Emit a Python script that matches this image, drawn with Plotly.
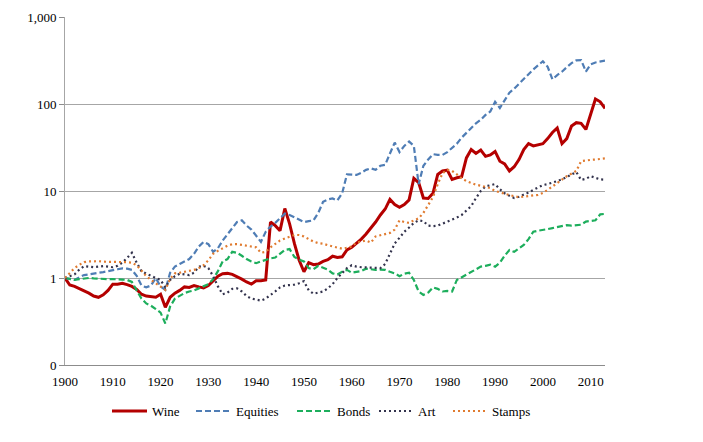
import plotly.graph_objects as go

years = list(range(1900, 2014))

wine = [1.0, 0.83, 0.80, 0.76, 0.71, 0.67, 0.62, 0.60, 0.64, 0.72,
        0.85, 0.85, 0.87, 0.84, 0.80, 0.74, 0.65, 0.62, 0.61, 0.60,
        0.65, 0.46, 0.60, 0.67, 0.72, 0.79, 0.78, 0.82, 0.79, 0.77,
        0.82, 0.92, 1.05, 1.12, 1.13, 1.10, 1.04, 0.97, 0.90, 0.85,
        0.93, 0.93, 0.95, 4.4, 4.0, 3.5, 6.3, 4.2, 2.5, 1.6,
        1.18, 1.5, 1.42, 1.45, 1.55, 1.62, 1.78, 1.72, 1.75, 2.1,
        2.25, 2.5, 2.8, 3.2, 3.7, 4.4, 5.3, 6.2, 8.0, 7.0,
        6.5, 7.0, 7.9, 14.0, 12.5, 8.3, 8.2, 9.4, 15.5, 17.0,
        17.4, 13.6, 14.2, 14.6, 24.0, 30.0, 27.0, 29.5, 25.0, 26.0,
        28.5, 22.0, 20.5, 17.0, 19.0, 23.0, 30.0, 35.0, 33.0, 34.0,
        35.0, 40.0, 47.0, 53.0, 35.0, 40.0, 56.0, 61.0, 60.0, 51.0,
        77.0, 114.0, 106.0, 89.0]

equities = [1.0, 0.97, 0.95, 1.02, 1.08, 1.10, 1.13, 1.15, 1.17, 1.20,
            1.24, 1.26, 1.29, 1.28, 1.24, 1.06, 0.82, 0.78, 0.82, 1.0,
            0.80, 0.73, 1.15, 1.35, 1.45, 1.55, 1.65, 1.9, 2.3, 2.6,
            2.45, 2.0, 2.2, 2.7, 3.2, 3.7, 4.4, 4.6, 4.0, 3.6,
            3.1, 2.6, 3.4, 3.9, 4.3, 4.9, 5.5, 5.3, 5.0, 4.7,
            4.4, 4.5, 4.6, 5.6, 7.5, 8.0, 8.2, 7.8, 9.4, 15.5,
            15.5, 15.3, 16.2, 17.5, 18.2, 17.5, 19.5, 20.0, 27.0, 36.0,
            28.0, 33.0, 37.0, 33.0, 12.0, 19.5, 23.0, 26.5, 26.0, 26.0,
            28.0, 31.0, 35.0, 41.0, 47.0, 53.0, 60.0, 66.0, 75.0, 82.0,
            106.0, 90.0, 112.0, 135.0, 150.0, 172.0, 195.0, 220.0, 250.0, 280.0,
            310.0, 268.0, 192.0, 215.0, 235.0, 265.0, 295.0, 318.0, 320.0, 236.0,
            285.0, 300.0, 305.0, 315.0]

bonds = [1.0, 0.97, 0.95, 0.97, 0.98, 1.0, 0.99, 0.98, 0.97, 0.97,
         0.97, 0.97, 0.96, 0.95, 0.90, 0.72, 0.58, 0.51, 0.48, 0.44,
         0.40, 0.30, 0.47, 0.58, 0.63, 0.67, 0.70, 0.72, 0.76, 0.80,
         0.85, 0.97, 1.2, 1.55, 1.65, 2.0, 1.95, 1.8, 1.65, 1.55,
         1.48, 1.55, 1.62, 1.68, 1.72, 1.9, 2.1, 2.15, 1.75, 1.62,
         1.55, 1.3, 1.26, 1.38, 1.3, 1.25, 1.13, 1.1, 1.18, 1.24,
         1.15, 1.18, 1.2, 1.28, 1.26, 1.24, 1.25, 1.24, 1.18, 1.13,
         1.05, 1.12, 1.15, 0.95, 0.70, 0.64, 0.68, 0.78, 0.75, 0.70,
         0.71, 0.70, 0.95, 1.02, 1.08, 1.15, 1.25, 1.35, 1.38, 1.42,
         1.35, 1.5, 1.8, 2.1, 2.0, 2.2, 2.4, 2.8, 3.4, 3.5,
         3.55, 3.65, 3.75, 3.85, 3.9, 4.05, 4.0, 4.05, 4.1, 4.45,
         4.5, 4.6, 5.4, 5.45]

art = [1.0, 1.05, 1.1, 1.25, 1.37, 1.35, 1.33, 1.35, 1.37, 1.35,
       1.33, 1.38, 1.5, 1.7, 1.95, 1.5, 1.2, 1.12, 1.05, 1.0,
       0.95, 0.78, 0.95, 1.05, 1.12, 1.1, 1.08, 1.15, 1.35, 1.38,
       1.3, 1.05, 0.8, 0.65, 0.68, 0.75, 0.76, 0.7, 0.62, 0.58,
       0.56, 0.55, 0.58, 0.63, 0.7, 0.78, 0.82, 0.83, 0.84, 0.87,
       0.92, 0.72, 0.66, 0.68, 0.7, 0.76, 0.85, 1.0, 1.15, 1.3,
       1.4, 1.35, 1.33, 1.32, 1.33, 1.32, 1.3, 1.45, 1.9, 2.5,
       2.9, 3.4, 3.8, 4.3, 4.6, 4.5, 4.0, 3.95, 4.0, 4.2,
       4.45, 4.7, 4.95, 5.3, 5.9, 6.7, 8.3, 10.0, 11.3, 11.7,
       12.0, 10.5, 9.4, 8.8, 8.3, 8.6, 9.0, 9.6, 10.3, 11.0,
       11.7, 12.0, 12.4, 13.0, 13.6, 14.5, 15.5, 16.5, 13.4, 13.8,
       14.8, 14.2, 13.6, 13.5]

stamps = [1.0, 1.15, 1.3, 1.42, 1.52, 1.55, 1.57, 1.56, 1.54, 1.54,
          1.54, 1.53, 1.53, 1.52, 1.5, 1.4, 1.22, 1.05, 0.95, 0.87,
          0.8, 0.73, 0.98, 1.13, 1.15, 1.18, 1.2, 1.24, 1.3, 1.4,
          1.6, 1.9, 2.05, 2.2, 2.35, 2.45, 2.45, 2.4, 2.35, 2.3,
          2.25, 1.95, 2.0, 2.25, 2.45, 2.7, 2.85, 3.0, 3.12, 3.12,
          3.0, 2.8, 2.62, 2.52, 2.48, 2.38, 2.3, 2.2, 2.17, 2.22,
          2.3, 2.55, 2.6, 2.7, 2.55, 3.0, 3.1, 3.2, 3.3, 3.6,
          4.6, 4.4, 4.3, 4.6, 4.85, 5.6, 6.8, 8.5, 12.0, 16.0,
          17.5, 17.0, 15.5, 14.0, 13.0, 12.3, 11.8, 11.5, 11.2, 10.8,
          10.0, 9.6, 9.2, 9.0, 8.7, 8.5, 8.6, 8.8, 8.9, 9.0,
          9.5, 10.3, 11.2, 12.2, 13.5, 14.8, 16.0, 17.0, 22.0, 22.5,
          22.8, 23.0, 23.5, 23.7]

series_names = ["Wine", "Equities", "Bonds", "Art", "Stamps"]
y_tick_vals = [0.1, 1, 10, 100, 1000]
y_tick_text = ["0", "1", "10", "100", "1,000"]
x_tick_vals = list(range(1900, 2011, 10))

styles = {
    "Wine": dict(color="#B40000", width=3, dash="solid"),
    "Equities": dict(color="#4F7DB5", width=2.2, dash="6px,3px"),
    "Bonds": dict(color="#1DAE5C", width=2.2, dash="6px,3px"),
    "Art": dict(color="#33334D", width=2.2, dash="2px,3px"),
    "Stamps": dict(color="#E07B30", width=2.2, dash="2px,3px"),
}

data = {"Wine": wine, "Equities": equities, "Bonds": bonds, "Art": art, "Stamps": stamps}

fig = go.Figure()
for name in series_names:
    fig.add_trace(go.Scatter(x=years, y=data[name], mode="lines", name=name,
                             line=styles[name], showlegend=False))

font = dict(family="Liberation Serif", size=13, color="#000000")

# Legend drawn below the plot (plot area: 540 px wide, 348 px tall)
PW, PH = 540.0, 348.0
legend_line_x = {"Wine": (47, 82), "Equities": (131, 166), "Bonds": (232, 267),
                 "Art": (314, 348), "Stamps": (388, 422)}
legend_y = -46.0 / PH
shapes = []
annotations = []
for name in series_names:
    x0, x1 = legend_line_x[name]
    shapes.append(dict(type="line", xref="paper", yref="paper",
                       x0=x0 / PW, x1=x1 / PW, y0=legend_y, y1=legend_y,
                       line=dict(color=styles[name]["color"], width=styles[name]["width"],
                                 dash=styles[name]["dash"])))
    annotations.append(dict(text=name, xref="paper", yref="paper",
                            x=(x1 + 3) / PW, y=legend_y, xanchor="left", yanchor="middle",
                            showarrow=False, font=font))

fig.update_layout(
    width=695, height=434,
    margin=dict(l=57, r=98, t=9, b=77),
    paper_bgcolor="white", plot_bgcolor="white",
    font=font,
    showlegend=False,
    shapes=shapes,
    annotations=annotations,
    xaxis=dict(range=[1900, 2013], tickvals=x_tick_vals, showgrid=False,
               showline=True, linecolor="#8C8C8C", linewidth=1,
               ticks="outside", ticklen=4, tickcolor="rgba(0,0,0,0)",
               zeroline=False, tickfont=font, automargin=False),
    yaxis=dict(type="log", range=[-1, 3], tickvals=y_tick_vals, ticktext=y_tick_text,
               showgrid=True, gridcolor="#A6A6A6", gridwidth=1,
               showline=True, linecolor="#A6A6A6", linewidth=1,
               ticks="outside", ticklen=5, tickcolor="#8C8C8C",
               zeroline=False, tickfont=font, automargin=False),
)

fig.write_html("out.html")
